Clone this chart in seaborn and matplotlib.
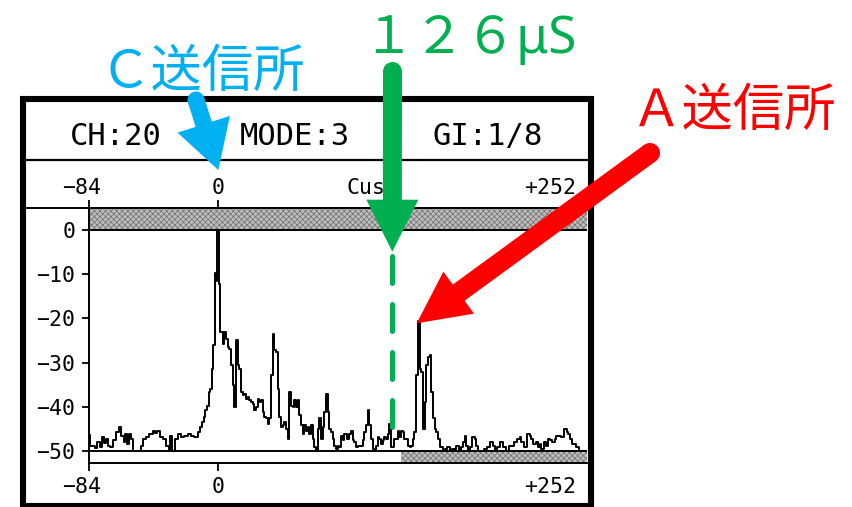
import matplotlib
matplotlib.use('Agg')
import matplotlib.pyplot as plt
from matplotlib.patches import Rectangle, FancyArrow, Circle
from matplotlib import transforms
import pandas as pd
import seaborn as sns

# delay profile
delay_us = [
    -83.8, -82.7, -81.2, -79.4, -77.7, -76.2, -75.1, -74.0, -72.5, -71.2,
    -69.7, -67.5, -65.3, -63.8, -62.0, -61.0, -59.9, -58.8, -57.7, -56.2,
    -55.1, -53.4, -51.2, -49.7, -48.0, -45.8, -43.6, -41.5, -40.4, -38.9,
    -37.1, -35.0, -32.7, -31.7, -30.6, -29.1, -27.3, -25.2, -23.0, -20.8,
    -18.7, -16.5, -14.3, -12.2, -11.1, -10.0, -8.9, -7.8, -6.7, -5.7,
    -4.6, -3.5, -2.6, -1.6, -0.8, 0.0, 0.7, 2.4, 3.5, 4.6,
    5.6, 6.7, 7.8, 8.9, 10.0, 11.1, 12.2, 13.2, 14.3, 15.4,
    16.5, 17.6, 18.7, 19.7, 20.8, 21.9, 23.0, 24.1, 25.2, 26.2,
    27.3, 28.4, 29.5, 30.6, 31.7, 32.7, 33.8, 34.9, 36.0, 37.1,
    38.2, 39.3, 40.4, 41.5, 42.5, 43.6, 44.7, 45.8, 46.9, 48.0,
    49.0, 50.1, 51.2, 52.3, 53.4, 54.5, 55.5, 56.6, 57.7, 58.8,
    59.9, 61.0, 62.0, 63.1, 64.2, 65.3, 66.4, 67.5, 68.6, 69.7,
    70.7, 71.8, 72.9, 74.0, 75.1, 76.2, 77.3, 78.3, 79.4, 80.5,
    81.6, 82.7, 84.9, 86.0, 87.0, 88.1, 89.2, 90.3, 91.4, 92.5,
    93.5, 94.6, 95.7, 96.8, 97.9, 99.0, 100.1, 101.1, 102.2, 103.3,
    104.4, 105.5, 106.6, 107.7, 108.7, 109.8, 110.9, 112.0, 113.1, 114.2,
    115.3, 116.4, 117.4, 118.5, 119.6, 120.7, 121.8, 122.9, 124.0, 125.1,
    126.1, 127.2, 128.3, 129.4, 130.5, 131.6, 132.7, 133.8, 134.9, 135.9,
    137.0, 138.1, 139.2, 140.3, 141.4, 142.5, 143.6, 144.6, 145.7, 146.8,
    147.9, 150.1, 151.2, 153.4, 154.5, 155.6, 157.6, 158.7, 159.8, 160.9,
    162.0, 163.1, 164.1, 166.3, 167.4, 168.5, 169.6, 171.8, 173.9, 176.1,
    178.3, 179.4, 180.5, 182.6, 184.8, 185.9, 188.1, 190.3, 191.4, 193.5,
    195.7, 196.8, 197.9, 200.1, 202.2, 203.3, 204.4, 205.5, 207.7, 208.8,
    209.8, 210.9, 213.1, 214.2, 215.3, 216.4, 218.5, 219.6, 220.7, 221.8,
    224.0, 226.2, 227.3, 228.3, 229.4, 231.6, 233.8, 236.0, 239.2,
]
level_db = [
    -46.3, -48.8, -48.8, -49.4, -48.0, -49.1, -46.9, -48.1, -47.2, -48.8,
    -49.1, -47.6, -45.7, -44.6, -46.5, -48.0, -46.1, -48.4, -46.1, -47.2,
    -50.0, -50.0, -50.0, -48.8, -47.2, -46.9, -46.1, -45.4, -45.9, -45.4,
    -46.9, -47.2, -48.8, -50.0, -46.5, -50.0, -47.2, -46.1, -46.9, -46.5,
    -46.1, -46.5, -46.9, -45.7, -44.6, -43.5, -42.3, -40.8, -39.7, -36.7,
    -35.9, -31.4, -26.1, -9.8, -11.5, 0.0, -12.1, -23.1, -25.7, -23.1,
    -24.6, -26.5, -26.8, -30.6, -35.1, -40.1, -24.9, -30.6, -31.4, -36.7,
    -37.4, -37.0, -38.2, -37.8, -38.5, -38.9, -39.3, -40.8, -40.1, -38.2,
    -38.9, -38.5, -41.2, -42.3, -42.6, -43.8, -42.6, -32.9, -23.4, -27.2,
    -27.6, -35.9, -42.3, -44.6, -44.2, -43.5, -44.9, -47.2, -36.7, -39.7,
    -40.1, -38.5, -40.1, -38.5, -41.9, -44.2, -46.1, -44.2, -45.4, -44.6,
    -46.1, -44.2, -47.2, -49.1, -50.0, -45.0, -42.6, -47.2, -44.6, -41.2,
    -37.0, -41.2, -45.0, -45.7, -47.2, -48.8, -49.5, -48.8, -49.1, -46.5,
    -47.6, -46.1, -47.2, -46.1, -45.4, -47.6, -48.0, -49.1, -48.8, -48.8,
    -48.8, -47.6, -45.7, -44.2, -40.8, -44.2, -47.2, -49.5, -49.9, -48.8,
    -46.9, -47.2, -48.4, -47.6, -46.9, -47.2, -46.1, -43.8, -49.1, -49.1,
    -47.2, -47.2, -45.4, -46.9, -45.4, -45.7, -47.2, -47.2, -48.8, -49.1,
    -48.8, -47.2, -45.7, -32.9, -20.5, -31.4, -32.1, -45.0, -38.9, -30.6,
    -28.7, -28.3, -36.7, -42.6, -45.0, -45.7, -47.2, -49.1, -49.1, -50.0,
    -49.5, -49.1, -50.0, -49.5, -50.0, -48.8, -50.0, -49.1, -48.0, -46.5,
    -48.8, -50.0, -49.1, -46.9, -47.2, -48.8, -50.0, -50.0, -49.5, -49.1,
    -48.0, -48.8, -50.0, -49.1, -48.0, -49.1, -50.0, -48.8, -48.8, -48.0,
    -47.2, -46.9, -48.0, -49.1, -46.1, -46.5, -47.2, -48.4, -48.0, -49.1,
    -48.4, -49.5, -48.0, -48.8, -47.2, -47.6, -48.0, -47.2, -46.5, -46.5,
    -46.9, -45.0, -45.7, -46.1, -47.2, -48.4, -49.1, -50.0, -50.0,
]

x_ticks = [-84, 0]
x_labels = ['−84', '0']
x_end_label = '+252'
y_ticks = [0, -10, -20, -30, -40, -50]
y_labels = ['0', '−10', '−20', '−30', '−40', '−50']
header = ['CH:20', 'MODE:3', 'GI:1/8']
cursor_label = 'Cus'

X_MIN, X_MAX = -84, 240
Y_MIN, Y_MAX = -52.7, 5.0
FLOOR_DB = -50
HATCH_FROM_US = 119.1   # start of the shaded strip under the floor
CURSOR_US = 113.3       # green dashed marker

W, H = 852, 507
sns.set_theme(style='white')
plt.rcParams['font.family'] = ['DejaVu Sans Mono', 'DejaVu Sans']
plt.rcParams['hatch.linewidth'] = 0.5

fig = plt.figure(figsize=(W / 100, H / 100), dpi=100)
fig.patch.set_facecolor('white')

# main plot area, placed in screen pixels
left, right, top, bottom = 89, 587, 208, 463
ax = fig.add_axes([left / W, 1 - bottom / H, (right - left) / W, (bottom - top) / H])
ax.set_facecolor('white')

df = pd.DataFrame({'delay': delay_us, 'level': level_db})
sns.lineplot(data=df, x='delay', y='level', ax=ax, color='black', lw=1.4,
             estimator=None, drawstyle='steps-mid', zorder=3)

# shaded strips: above 0 dB and to the right under the floor
shade = dict(facecolor='#bdbdbd', edgecolor='#6e6e6e', lw=0, hatch='xxxxxx', zorder=1)
ax.add_patch(Rectangle((X_MIN, 0), X_MAX - X_MIN, Y_MAX, **shade))
ax.add_patch(Rectangle((HATCH_FROM_US, Y_MIN), X_MAX - HATCH_FROM_US,
                       FLOOR_DB - Y_MIN, **shade))
ax.axhline(0, color='black', lw=1.4, zorder=2)
ax.axhline(FLOOR_DB, color='black', lw=1.4, zorder=2)

ax.plot([CURSOR_US, CURSOR_US], [-5.9, -47.4], color='#00B050', lw=3.6,
        ls=(0, (5.4, 4.2)), dash_capstyle='round', zorder=4)

ax.set_xlim(X_MIN, X_MAX)
ax.set_ylim(Y_MIN, Y_MAX)
ax.set_xticks(x_ticks)
ax.set_yticks(y_ticks, y_labels)
ax.set_xlabel('')
ax.set_ylabel('')
ax.tick_params(axis='x', top=True, bottom=True, labelbottom=False,
               direction='out', length=6, width=1.3, color='black')
ax.tick_params(axis='y', left=True, direction='out', length=5.3, width=1.3,
               pad=4.6, labelsize=15.5, color='black', labelcolor='black')
for s in ['left', 'top', 'bottom']:
    ax.spines[s].set_visible(True)
    ax.spines[s].set_color('black')
    ax.spines[s].set_linewidth(1.4)
ax.spines['right'].set_visible(False)

# overlay in screen pixels for the frame, header and callouts
ov = fig.add_axes([0, 0, 1, 1])
ov.set_xlim(0, W)
ov.set_ylim(H, 0)
ov.set_axis_off()

ov.add_patch(Rectangle((23, 98.5), 568, 407.5, fill=False, ec='black', lw=4.4, zorder=2))
ov.plot([23, 591], [160, 160], color='black', lw=1.6, zorder=2)
ov.plot([23, 591], [208, 208], color='black', lw=1.4, zorder=2)

for txt, cx in zip(header, [116, 294.5, 488]):
    ov.text(cx, 145, txt, ha='center', va='baseline', fontsize=22, color='black')

# delay scale labels above and below the plot (x follows the data axis)
blend = transforms.blended_transform_factory(ax.transData, ov.transData)
for base in [194, 493]:
    for val, lab in zip(x_ticks, x_labels):
        shift = -5 if lab.startswith('−') else 0
        ov.annotate(lab, xy=(val, base), xycoords=blend, xytext=(shift, 0),
                    textcoords='offset points', ha='center', va='baseline',
                    fontsize=15.5, color='black')
    ov.text(576, base, x_end_label, ha='right', va='baseline', fontsize=15.5, color='black')
ov.text(347, 194, cursor_label, ha='left', va='baseline', fontsize=15.5, color='black')


def fat_arrow(tail, tip, shaft, head_w, head_l, color):
    ov.add_patch(FancyArrow(tail[0], tail[1], tip[0] - tail[0], tip[1] - tail[1],
                            width=shaft, head_width=head_w, head_length=head_l,
                            length_includes_head=True, color=color, lw=0, zorder=6))
    ov.add_patch(Circle(tail, shaft / 2, color=color, lw=0, zorder=6))


cyan, green, red = '#00B0F0', '#00B050', '#FF0000'
fat_arrow((196, 100), (218.3, 170), 17, 55, 48, cyan)
fat_arrow((392.5, 71.5), (392.3, 251.7), 19, 52, 52, green)
fat_arrow((650, 153), (416.7, 323.3), 20, 52, 52, red)

jp = ['Noto Sans CJK JP', 'DejaVu Sans']
ov.text(99, 87, 'Ｃ送信所', ha='left', va='baseline', fontsize=37, color=cyan,
        family=jp, zorder=7)
ov.text(362, 53, '１２６μS', ha='left', va='baseline', fontsize=37, color=green,
        family=['Noto Sans', 'Noto Sans CJK JP'], zorder=7)
ov.text(631, 126, 'Ａ送信所', ha='left', va='baseline', fontsize=37, color=red,
        family=jp, zorder=7)

fig.savefig('out.png', dpi=100, facecolor='white')
